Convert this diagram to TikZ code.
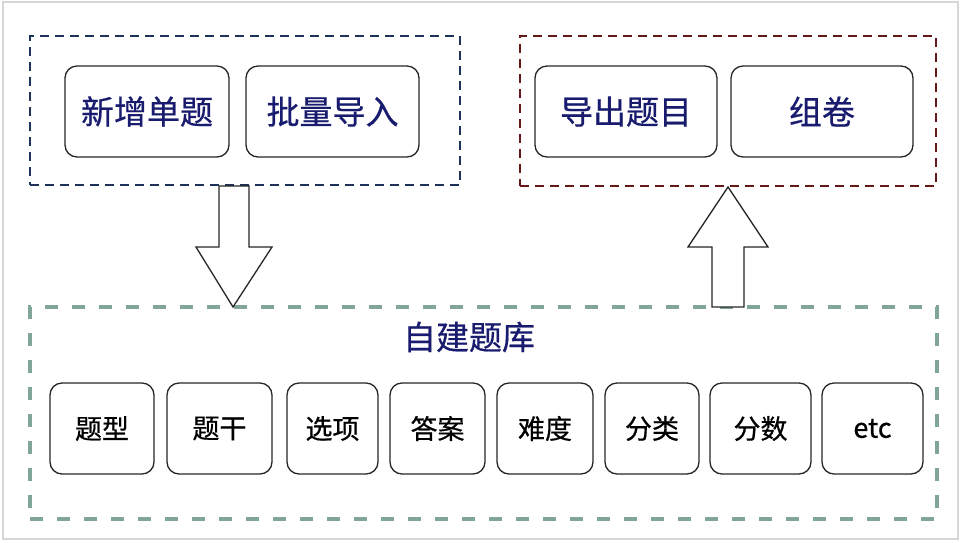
\documentclass[tikz,border=0pt]{standalone}
\usepackage{fontspec}
\newfontfamily\cjk[FakeBold=0.6]{Noto Sans CJK SC}
\usetikzlibrary{positioning,calc}
\definecolor{InBlue}{RGB}{30,50,90}
\definecolor{OutRed}{RGB}{100,25,25}
\definecolor{BankTeal}{RGB}{130,165,155}
\definecolor{LabelNavy}{RGB}{25,28,110}
\definecolor{FrameGray}{RGB}{215,215,215}

\begin{document}
\begin{tikzpicture}[x=1pt,y=-1pt,
    group/.style={draw,line width=2.6pt,dash pattern=on 9pt off 6pt,inner sep=0pt},
    bigbox/.style={draw=black!85,line width=1.3pt,rounded corners=12pt,minimum height=91pt,
      font=\cjk\fontsize{33}{38}\selectfont,text=LabelNavy},
    field/.style={draw=black!85,line width=1.3pt,rounded corners=12pt,minimum height=91pt,
      font=\cjk\fontsize{27}{32}\selectfont},
    blockarrow/.style={draw=black!85,fill=white,line width=1.3pt,line join=miter}]
  \useasboundingbox (0,0) rectangle (962,542);
  \draw[FrameGray,line width=2pt] (3,2) rectangle (958,539);
  % 三个虚线分组
  \node[group,draw=InBlue,minimum width=430pt,minimum height=149pt] (grpIn) at (245,110.5) {};
  \node[group,draw=OutRed,minimum width=416pt,minimum height=150pt] (grpOut) at (728,111) {};
  \node[group,draw=BankTeal,line width=3.6pt,dash pattern=on 13pt off 14pt,
    minimum width=907pt,minimum height=212pt] (grpBank) at (483.5,413) {};
  % 录入 / 输出
  \node[bigbox,minimum width=164pt] (addOne) at (147,111.5) {新增单题};
  \node[bigbox,minimum width=173pt] (bulkIn) at (332.5,111.5) {批量导入};
  \node[bigbox,minimum width=182pt] (export) at (626,111.5) {导出题目};
  \node[bigbox,minimum width=182pt] (paper) at (822,111.5) {组卷};
  % 题库及字段
  \node[font=\cjk\fontsize{33}{38}\selectfont,text=LabelNavy] (bankTitle) at (469,337) {自建题库};
  \node[field,minimum width=104pt] (fType) at (102,428.5) {题型};
  \node[field,minimum width=105pt] (fStem) at (219.5,428.5) {题干};
  \node[field,minimum width=91pt] (fOpt) at (332.5,428.5) {选项};
  \node[field,minimum width=95pt] (fAns) at (437.5,428.5) {答案};
  \node[field,minimum width=96pt] (fDiff) at (545,428.5) {难度};
  \node[field,minimum width=94pt] (fCat) at (652,428.5) {分类};
  \node[field,minimum width=101pt] (fScore) at (760.5,428.5) {分数};
  \node[field,minimum width=101pt] (fEtc) at (872.5,428.5) {etc};
  % 空心箭头
  \coordinate (inTip) at (233,307);
  \coordinate (outTip) at (728,187);
  \draw[blockarrow] (inTip) -- ++(-37,-60) -- ++(23,0) -- ++(0,-61) -- ++(30,0)
    -- ++(0,61) -- ++(23,0) -- cycle;
  \draw[blockarrow] (outTip) -- ++(-40,60) -- ++(24,0) -- ++(0,60) -- ++(32,0)
    -- ++(0,-60) -- ++(24,0) -- cycle;
\end{tikzpicture}
\end{document}
